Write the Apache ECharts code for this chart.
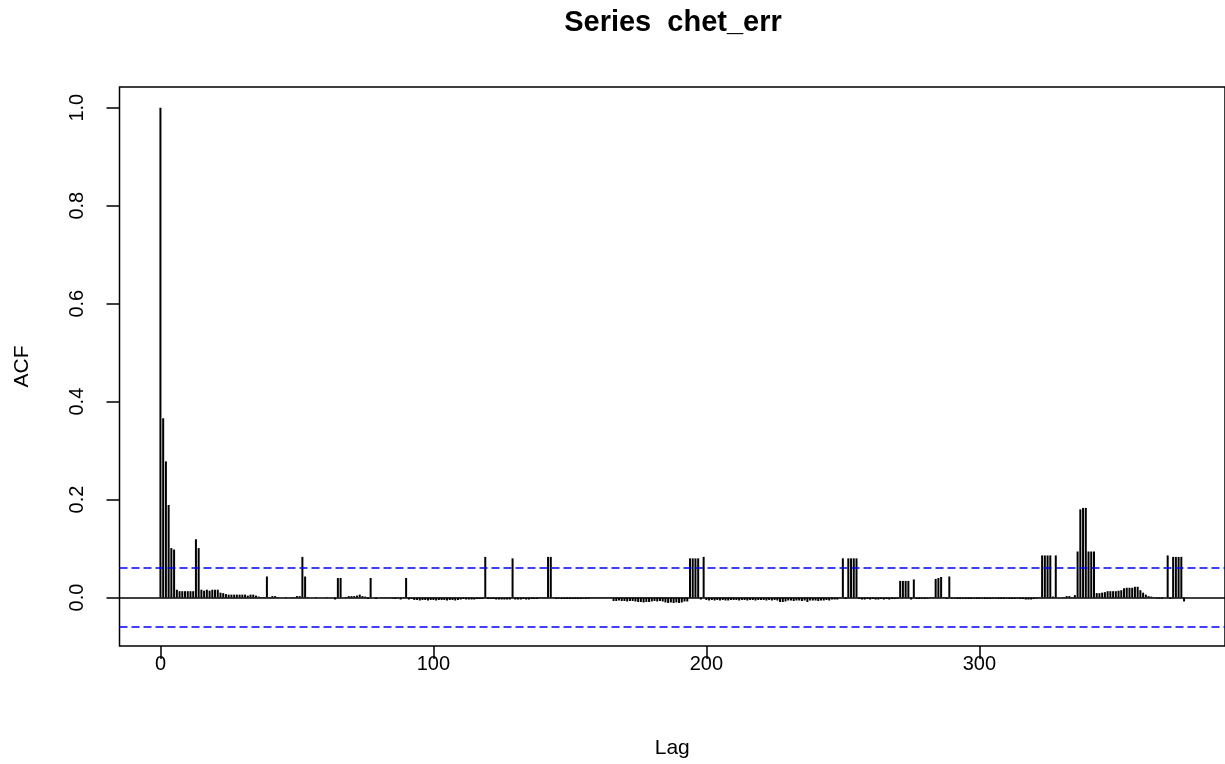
<!DOCTYPE html>
<html>
<head>
<meta charset="utf-8">
<script src="https://cdn.jsdelivr.net/npm/echarts@6/dist/echarts.min.js"></script>
<style>
html,body{margin:0;padding:0;background:#ffffff;}
#chart{width:1225px;height:764px;}
</style>
</head>
<body>
<div id="chart"></div>
<script>
// ACF values for lags 0..375
const acfValues = [
  1.000, 0.366, 0.278, 0.189, 0.101, 0.098, 0.016, 0.013, 0.013, 0.013,
  0.013, 0.013, 0.013, 0.119, 0.101, 0.016, 0.014, 0.016, 0.014, 0.016,
  0.016, 0.016, 0.010, 0.009, 0.007, 0.006, 0.006, 0.006, 0.006, 0.006,
  0.006, 0.006, 0.004, 0.006, 0.006, 0.004, 0.002, 0.001, 0.001, 0.043,
  0.001, 0.003, 0.003, 0.001, 0.000, 0.000, 0.001, 0.000, 0.001, 0.001,
  0.003, 0.003, 0.083, 0.043, 0.001, 0.000, 0.000, 0.001, 0.000, 0.000,
  0.000, 0.001, 0.000, 0.000, -0.004, 0.040, 0.040, 0.000, 0.001, 0.003,
  0.003, 0.003, 0.004, 0.006, 0.003, 0.002, -0.003, 0.040, 0.000, -0.003,
  0.000, -0.001, -0.001, -0.001, -0.001, -0.002, -0.003, -0.001, -0.004, -0.001,
  0.040, -0.004, -0.003, -0.005, -0.005, -0.006, -0.005, -0.005, -0.006, -0.005,
  -0.005, -0.006, -0.005, -0.005, -0.005, -0.006, -0.005, -0.005, -0.006, -0.005,
  -0.004, -0.003, -0.004, -0.004, -0.004, -0.004, -0.003, -0.003, -0.003, 0.083,
  -0.003, -0.003, -0.003, -0.004, -0.004, -0.004, -0.004, -0.004, -0.004, 0.080,
  -0.004, -0.004, -0.004, -0.003, -0.004, -0.004, -0.003, -0.003, -0.003, 0.001,
  0.001, 0.001, 0.083, 0.083, -0.001, -0.003, -0.002, -0.003, -0.003, -0.003,
  -0.003, -0.003, -0.003, -0.003, -0.003, -0.002, -0.003, -0.002, -0.001, -0.001,
  -0.001, -0.001, -0.001, -0.001, -0.001, -0.001, -0.007, -0.007, -0.006, -0.007,
  -0.007, -0.008, -0.007, -0.007, -0.008, -0.009, -0.009, -0.010, -0.009, -0.009,
  -0.008, -0.007, -0.008, -0.007, -0.008, -0.010, -0.011, -0.010, -0.011, -0.010,
  -0.011, -0.010, -0.008, -0.008, 0.080, 0.080, 0.080, 0.080, -0.004, 0.083,
  -0.005, -0.006, -0.005, -0.006, -0.005, -0.006, -0.005, -0.006, -0.006, -0.005,
  -0.005, -0.005, -0.006, -0.005, -0.005, -0.006, -0.005, -0.005, -0.006, -0.005,
  -0.005, -0.005, -0.006, -0.005, -0.006, -0.005, -0.006, -0.009, -0.009, -0.008,
  -0.006, -0.006, -0.007, -0.006, -0.006, -0.007, -0.006, -0.009, -0.006, -0.006,
  -0.006, -0.007, -0.006, -0.006, -0.005, -0.006, -0.004, -0.004, -0.004, -0.001,
  0.080, -0.003, 0.080, 0.080, 0.080, 0.080, -0.003, -0.004, -0.004, -0.003,
  -0.004, -0.003, -0.004, -0.004, -0.003, -0.004, -0.003, -0.004, -0.003, -0.003,
  -0.002, 0.034, 0.034, 0.034, 0.034, -0.004, 0.037, -0.003, -0.003, -0.002,
  -0.003, -0.002, -0.001, -0.001, 0.038, 0.040, 0.042, 0.001, -0.003, 0.043,
  -0.002, -0.002, -0.003, -0.003, -0.002, -0.003, -0.003, -0.003, -0.002, -0.003,
  -0.003, -0.002, -0.003, -0.003, -0.003, -0.002, -0.002, -0.003, -0.003, -0.003,
  -0.002, -0.003, -0.003, -0.003, -0.002, -0.003, -0.003, -0.004, -0.004, -0.004,
  -0.003, -0.002, -0.001, 0.086, 0.086, 0.086, 0.086, 0.002, 0.086, 0.000,
  0.000, 0.001, 0.003, 0.003, 0.001, 0.005, 0.094, 0.180, 0.183, 0.183,
  0.094, 0.094, 0.094, 0.009, 0.009, 0.010, 0.011, 0.013, 0.013, 0.013,
  0.013, 0.014, 0.015, 0.019, 0.020, 0.020, 0.020, 0.022, 0.022, 0.015,
  0.010, 0.006, 0.003, 0.002, 0.001, -0.002, -0.002, -0.002, 0.000, 0.086,
  -0.003, 0.083, 0.083, 0.083, 0.083, -0.008
];
const confLimit = 0.0566;
const xTickValues = [0, 100, 200, 300];
const yTickValues = [0, 0.2, 0.4, 0.6, 0.8, 1.0];
const titleText = 'Series  chet_err';
const xName = 'Lag';
const yName = 'ACF';

const FONT = "'Liberation Sans', Arial, sans-serif";
const chart = echarts.init(document.getElementById('chart'), null, {renderer: 'canvas'});
const seriesData = acfValues.map((v, i) => [i, v]);

chart.setOption({
  animation: false,
  backgroundColor: '#ffffff',
  title: {
    text: titleText,
    left: 673,
    top: 8,
    textAlign: 'center',
    padding: 0,
    textStyle: {fontFamily: FONT, fontSize: 29, fontWeight: 'bold', color: '#000'}
  },
  grid: {
    left: 119.5, top: 87, width: 1109, height: 560,
    show: true, borderColor: '#000', borderWidth: 1.5, backgroundColor: 'transparent'
  },
  xAxis: {
    type: 'value', min: -15, max: 390,
    name: xName, nameLocation: 'middle', nameGap: 92,
    nameTextStyle: {fontFamily: FONT, fontSize: 21, color: '#000'},
    axisLine: {show: false, onZero: false},
    splitLine: {show: false},
    axisTick: {show: true, customValues: xTickValues, length: 13, lineStyle: {color: '#000', width: 1.5}},
    axisLabel: {customValues: xTickValues, fontFamily: FONT, fontSize: 20, color: '#000', margin: 8}
  },
  yAxis: {
    type: 'value', min: -0.0989, max: 1.0423,
    name: yName, nameLocation: 'middle', nameGap: 87, nameRotate: 90,
    nameTextStyle: {fontFamily: FONT, fontSize: 21, color: '#000'},
    axisLine: {show: false, onZero: false},
    splitLine: {show: false},
    axisTick: {show: true, customValues: yTickValues, length: 13, lineStyle: {color: '#000', width: 1.5}},
    axisLabel: {customValues: yTickValues, rotate: 90, fontFamily: FONT, fontSize: 20, color: '#000', margin: 32,
      formatter: v => v.toFixed(1)}
  },
  series: [{
    type: 'bar',
    data: seriesData,
    barWidth: 2,
    itemStyle: {color: '#000'},
    markLine: {
      silent: true,
      symbol: ['none', 'none'],
      label: {show: false},
      data: [
        {yAxis: 0, lineStyle: {color: '#000', width: 1.5, type: 'solid'}},
        {yAxis: confLimit, lineStyle: {color: '#0000ff', width: 1.5, type: [8, 4]}},
        {yAxis: -confLimit, lineStyle: {color: '#0000ff', width: 1.5, type: [8, 4]}}
      ]
    }
  }]
});
</script>
</body>
</html>
